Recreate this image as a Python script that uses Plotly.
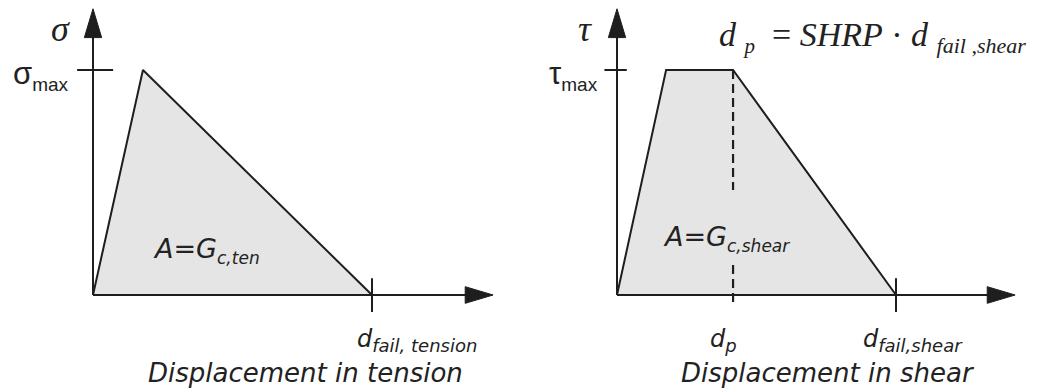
import plotly.graph_objects as go

# ---- data (normalised: displacement / d_fail, stress / max stress) ----
ten_disp = [0.0, 0.179, 1.0]
ten_stress = [0.0, 1.0, 0.0]
shear_disp = [0.0, 0.176, 0.416, 1.0]
shear_stress = [0.0, 1.0, 1.0, 0.0]
dp_value = 0.416

# axis extents (in data units)
x_arrow_tip = [1.434, 1.427]
y_arrow_tip = 1.272

FILL = "#e5e5e5"
LINE = "#1e1e1e"
TXT = "#222222"
SANS = "Liberation Sans, Arial, sans-serif"
WSANS = "DejaVu Sans, Verdana, sans-serif"
SERIF = "Liberation Serif, Times New Roman, serif"

# ---- page layout (browser body has an 8px margin) ----
W, H, OFF = 1037, 384, 8
SX, SY = 279.0, 225.0          # pixels per data unit
ORIG = [(93, 295), (617, 295)]  # page pixel of each panel origin
DOM = [(0.0, 0.5), (0.5, 1.0)]


def rng_x(i):
    ox = ORIG[i][0] - OFF
    a, b = DOM[i][0] * W, DOM[i][1] * W
    return [(a - ox) / SX, (b - ox) / SX]


def rng_y():
    oy = ORIG[0][1] - OFF
    return [-(H - oy) / SY, oy / SY]


def px(i, p):
    return (p - ORIG[i][0]) / SX


def py(p):
    return (ORIG[0][1] - p) / SY


fig = go.Figure()

panels = [
    dict(xs=ten_disp, ys=ten_stress, xa="x", ya="y", tip=x_arrow_tip[0]),
    dict(xs=shear_disp, ys=shear_stress, xa="x2", ya="y2", tip=x_arrow_tip[1]),
]

shapes = []
for p in panels:
    fig.add_trace(go.Scatter(
        x=p["xs"] + [p["xs"][0]], y=p["ys"] + [p["ys"][0]],
        fill="toself", fillcolor=FILL, mode="lines",
        line=dict(color=LINE, width=2), xaxis=p["xa"], yaxis=p["ya"],
        hoverinfo="skip", showlegend=False))
    xr, yr = p["xa"], p["ya"]
    shapes.append(dict(type="line", xref=xr, yref=yr, x0=0, y0=0, x1=p["tip"] - 0.06, y1=0,
                       line=dict(color=LINE, width=2)))
    shapes.append(dict(type="line", xref=xr, yref=yr, x0=0, y0=0, x1=0, y1=y_arrow_tip - 0.08,
                       line=dict(color=LINE, width=2)))
    t = p["tip"]
    shapes.append(dict(type="path", xref=xr, yref=yr,
                       path=f"M {t},0 L {t-0.1},0.037 L {t-0.1},-0.037 Z",
                       fillcolor=LINE, line=dict(color=LINE, width=1)))
    shapes.append(dict(type="path", xref=xr, yref=yr,
                       path=f"M 0,{y_arrow_tip} L -0.031,{y_arrow_tip-0.128} L 0.031,{y_arrow_tip-0.128} Z",
                       fillcolor=LINE, line=dict(color=LINE, width=1)))
    shapes.append(dict(type="line", xref=xr, yref=yr, x0=p["xs"][-1], y0=-0.075, x1=p["xs"][-1], y1=0.075,
                       line=dict(color=LINE, width=2)))

# max ticks
shapes.append(dict(type="line", xref="x", yref="y", x0=-0.057, y0=1, x1=0.072, y1=1,
                   line=dict(color=LINE, width=2)))
shapes.append(dict(type="line", xref="x2", yref="y2", x0=-0.045, y0=1, x1=0.035, y1=1,
                   line=dict(color=LINE, width=2)))
# dashed d_p line (gap for area label)
for y0, y1 in [(1.0, 0.467), (0.133, -0.044)]:
    shapes.append(dict(type="line", xref="x2", yref="y2", x0=dp_value, y0=y0, x1=dp_value, y1=y1,
                       line=dict(color=LINE, width=2.2, dash="9px,5px")))

ann = []


def txt(i, x, y, s, size, family=WSANS, xanchor="center", yanchor="middle"):
    xr = "x" if i == 0 else "x2"
    yr = "y" if i == 0 else "y2"
    ann.append(dict(xref=xr, yref=yr, x=px(i, x), y=py(y), text=s, showarrow=False,
                    font=dict(family=family, size=size, color=TXT),
                    xanchor=xanchor, yanchor=yanchor, borderpad=0))


def sub(s, size):
    return f"<sub><span style='font-size:{size}px'>{s}</span></sub>"


NB = "\u00a0"

# left panel text
txt(0, 60, 29, "<i>σ</i>", 36, SERIF)
txt(0, 70, 75, "σ" + sub("max", 19), 31, SANS, xanchor="right")
txt(0, 152, 250, "<i>A=G" + sub("c,ten", 17) + "</i>", 27, xanchor="left")
txt(0, 356, 340, "<i>d" + sub("fail, tension", 18) + "</i>", 24, xanchor="left")
txt(0, 305, 373, "<i>Displacement in tension</i>", 26)

# right panel text
txt(1, 585, 29, "<i>τ</i>", 36, SERIF)
txt(1, 599, 75, "τ" + sub("max", 19), 31, SANS, xanchor="right")
txt(1, 662, 238, "<i>A=G" + sub("c,shear", 17) + "</i>", 27, xanchor="left")
txt(1, 709, 340, "<i>d" + sub("p", 18) + "</i>", 24, xanchor="left")
txt(1, 862, 340, "<i>d" + sub("fail,shear", 18) + "</i>", 24, xanchor="left")
txt(1, 828, 373, "<i>Displacement in shear</i>", 26)
txt(1, 718, 37,
    "<i>d</i>" + NB + sub("<i>p</i>", 21) + NB + NB + "=" + NB + "<i>SHRP</i>" + NB + "·" + NB
    + "<i>d</i>" + NB + sub("<i>fail" + NB + ",shear</i>", 22),
    34, SERIF, xanchor="left")

ax_common = dict(visible=False, fixedrange=True)
fig.update_layout(
    width=W, height=H,
    margin=dict(l=0, r=0, t=0, b=0, pad=0),
    paper_bgcolor="white", plot_bgcolor="white",
    xaxis=dict(domain=list(DOM[0]), range=rng_x(0), **ax_common),
    yaxis=dict(domain=[0, 1], range=rng_y(), **ax_common),
    xaxis2=dict(domain=list(DOM[1]), range=rng_x(1), **ax_common),
    yaxis2=dict(domain=[0, 1], range=rng_y(), anchor="x2", **ax_common),
    shapes=shapes, annotations=ann, showlegend=False,
)

fig.write_html("out.html")
